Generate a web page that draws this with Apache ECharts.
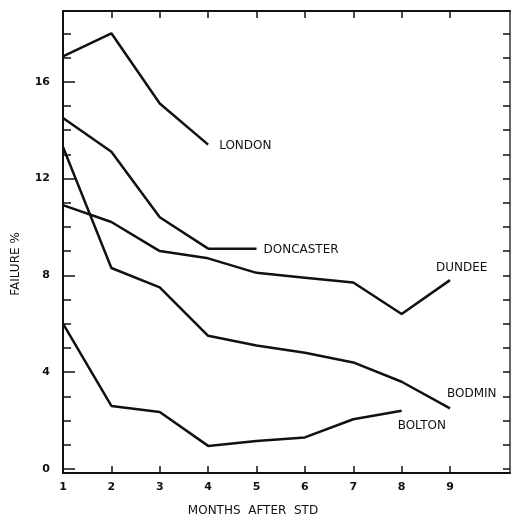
<!DOCTYPE html>
<html>
<head>
<meta charset="utf-8">
<script src="https://cdn.jsdelivr.net/npm/echarts@6/dist/echarts.min.js"></script>
<style>
  html, body { margin: 0; padding: 0; background: #fff; }
  #main { width: 518px; height: 520px; }
</style>
</head>
<body>
<div id="main"></div>
<script>
// months after STD
const months = [1, 2, 3, 4, 5, 6, 7, 8, 9];
// failure % per area
const london = [17.05, 18.0, 15.1, 13.4];
const doncaster = [14.5, 13.1, 10.4, 9.1, 9.1];
const dundee = [10.9, 10.2, 9.0, 8.7, 8.1, 7.9, 7.7, 6.4, 7.8];
const bodmin = [13.3, 8.3, 7.5, 5.5, 5.1, 4.8, 4.4, 3.6, 2.5];
const bolton = [6.0, 2.6, 2.35, 0.95, 1.15, 1.3, 2.05, 2.4];
const areaNames = ["LONDON", "DONCASTER", "DUNDEE", "BODMIN", "BOLTON"];
const yLabels = [0, 4, 8, 12, 16];
const yTicks = [0, 1, 2, 3, 4, 5, 6, 7, 8, 9, 10, 11, 12, 13, 14, 15, 16, 17, 18];

const INK = "#111";
const FONT = "DejaVu Sans";
const xMin = 1, xMax = 10.24;
const yMin = -0.17, yMax = 18.92;

const allSeries = [london, doncaster, dundee, bodmin, bolton];
// where each name sits relative to the last point of its line
const labelOffset = [[11, 1], [7, 1], [-14, -12], [-3, -15], [-4, 15]];

const myChart = echarts.init(document.getElementById("main"));

const xBase = {
  type: "value",
  min: xMin,
  max: xMax,
  splitLine: { show: false },
  axisLine: { show: true, onZero: false, lineStyle: { color: INK, width: 2 } },
  axisTick: { show: true, inside: true, length: 7, customValues: months.slice(1), lineStyle: { color: INK, width: 1.5 } }
};
const yBase = {
  type: "value",
  min: yMin,
  max: yMax,
  splitLine: { show: false },
  axisLine: { show: true, onZero: false, lineStyle: { color: INK, width: 2 } }
};

const option = {
  animation: false,
  backgroundColor: "#fff",
  grid: { left: 63, right: 8, top: 11, bottom: 47 },
  xAxis: [
    {
      ...xBase,
      position: "bottom",
      axisLabel: {
        customValues: months,
        color: INK,
        fontFamily: FONT,
        fontSize: 11,
        fontWeight: "bold",
        margin: 9
      }
    },
    {
      ...xBase,
      position: "top",
      axisLabel: { show: false }
    }
  ],
  yAxis: [
    {
      ...yBase,
      position: "left",
      axisTick: { show: true, inside: true, length: 12, customValues: yLabels, lineStyle: { color: INK, width: 1.5 } },
      axisLabel: {
        customValues: yLabels,
        color: INK,
        fontFamily: FONT,
        fontSize: 11,
        fontWeight: "bold",
        margin: 13
      }
    },
    {
      ...yBase,
      position: "right",
      axisLine: { show: true, onZero: false, lineStyle: { color: "#333", width: 1.5 } },
      axisTick: { show: true, inside: true, length: 7, customValues: yTicks, lineStyle: { color: INK, width: 1.5 } },
      axisLabel: { show: false }
    },
    {
      ...yBase,
      position: "left",
      axisTick: { show: true, inside: true, length: 8, customValues: yTicks, lineStyle: { color: INK, width: 1.5 } },
      axisLabel: { show: false }
    }
  ],
  series: allSeries.map((vals, i) => ({
    name: areaNames[i],
    type: "line",
    xAxisIndex: 0,
    yAxisIndex: 0,
    showSymbol: false,
    symbol: "none",
    lineStyle: { color: INK, width: 2.5 },
    data: vals.map((v, j) => [months[j], v])
  }))
};

myChart.setOption(option);

// area names next to the end of each line
const texts = allSeries.map((vals, i) => {
  const last = vals.length - 1;
  const p = myChart.convertToPixel({ xAxisIndex: 0, yAxisIndex: 0 }, [months[last], vals[last]]);
  return {
    type: "text",
    x: p[0] + labelOffset[i][0],
    y: p[1] + labelOffset[i][1],
    style: {
      text: areaNames[i],
      fill: INK,
      font: "12px '" + FONT + "'",
      textAlign: "left",
      textVerticalAlign: "middle"
    }
  };
});

// axis titles, placed off-centre as in the original
texts.push({
  type: "text",
  x: 253,
  y: 511,
  style: {
    text: "MONTHS  AFTER  STD",
    fill: INK,
    font: "12px '" + FONT + "'",
    textAlign: "center",
    textVerticalAlign: "middle"
  }
});
texts.push({
  type: "text",
  x: 16,
  y: 264,
  rotation: Math.PI / 2,
  style: {
    text: "FAILURE %",
    fill: INK,
    font: "12px '" + FONT + "'",
    textAlign: "center",
    textVerticalAlign: "middle"
  }
});
myChart.setOption({ graphic: texts });
</script>
</body>
</html>
